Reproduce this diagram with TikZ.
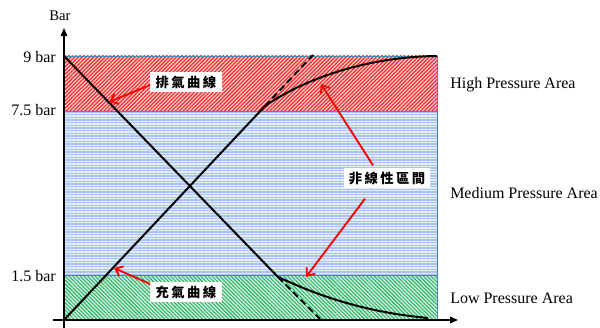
\documentclass[tikz,border=0pt]{standalone}
\usepackage{fontspec}
\setmainfont{Liberation Serif}
\newfontfamily\cjk[LetterSpace=18]{Noto Sans CJK TC}
\usetikzlibrary{patterns.meta,arrows.meta}
\definecolor{hired}{HTML}{FF2020}
\definecolor{hibase}{HTML}{FBC6C6}
\definecolor{midblue}{HTML}{A4C0EA}
\definecolor{midbase}{HTML}{E2ECF9}
\definecolor{logreen}{HTML}{20B060}
\definecolor{lobase}{HTML}{CDEEDA}
\definecolor{bordblue}{HTML}{4F81BD}
\tikzset{
  zone/.style={draw=bordblue, line width=0.6pt},
  curve/.style={line width=1.5pt, black},
  dcurve/.style={line width=1.5pt, black, dash pattern=on 5pt off 3pt},
  note/.style={fill=white, inner xsep=4pt, inner ysep=3pt, font=\cjk\bfseries\fontsize{10}{12}\selectfont},
  pointer/.style={draw=red, line width=1.4pt, -{Straight Barb[length=5pt,width=8pt,line width=1.4pt]}},
  axlabel/.style={font=\fontsize{12}{14}\selectfont, inner sep=0pt},
  axis/.style={line width=1.1pt, -{Triangle[length=6pt,width=5pt]}}
}
\begin{document}
\begin{tikzpicture}[x=0.75pt,y=-0.75pt]
\useasboundingbox (0,0) rectangle (600,328);
% zones
\fill[hibase] (64,56) rectangle (437,111);
\fill[midbase] (64,111) rectangle (437,275);
\fill[lobase] (64,275) rectangle (437,320);
\fill[pattern={Lines[angle=45,distance=2pt,line width=0.8pt]}, pattern color=hired] (64,56) rectangle (437,111);
\fill[pattern={Lines[angle=0,distance=2pt,line width=0.9pt]}, pattern color=midblue] (64,111) rectangle (437,275);
\fill[pattern={Lines[angle=-45,distance=2pt,line width=0.7pt]}, pattern color=logreen] (64,275) rectangle (437,320);
\draw[zone] (64,56) rectangle (437,111);
\draw[zone] (64,111) rectangle (437,275);
\draw[zone] (64,275) rectangle (437,320);
% axes
\coordinate (yb) at (64,328);
\coordinate (yt) at (64,28);
\coordinate (xl) at (53,320);
\coordinate (xr) at (458,320);
\draw[axis] (yb) -- (yt);
\draw[axis] (xl) -- (xr);
\node[axlabel, font=\fontsize{11}{13}\selectfont] (bar) at (60,16) {Bar};
\node[axlabel, anchor=east] (l9) at (56,57) {9 bar};
\node[axlabel, anchor=east] (l75) at (56,110) {7.5 bar};
\node[axlabel, anchor=east] (l15) at (56,276) {1.5 bar};
\node[axlabel, anchor=west] (hi) at (450,85) {High Pressure Area};
\node[axlabel, anchor=west] (me) at (450,193) {Medium Pressure Area};
\node[axlabel, anchor=west] (lo) at (450,298) {Low Pressure Area};
% curves
\coordinate (e0) at (64,56);
\coordinate (e1) at (278,277);
\coordinate (e2) at (428,318);
\coordinate (e3) at (320,319);
\coordinate (c0) at (64,320);
\coordinate (c1) at (265,106);
\coordinate (c2) at (437,56);
\coordinate (c3) at (313,55);
\draw[curve] (e0) -- (e1) .. controls (305,289) and (352,311) .. (e2);
\draw[dcurve] (e1) -- (e3);
\draw[curve] (c0) -- (c1) .. controls (300,82) and (360,57) .. (c2);
\draw[dcurve] (c1) -- (c3);
% notes
\node[note] (ex) at (186,82) {排氣曲線};
\node[note] (ch) at (186,292) {充氣曲線};
\node[note] (nl) at (387,178) {非線性區間};
\coordinate (ta) at (109,102);
\coordinate (tb) at (114,268);
\coordinate (tc) at (321,84);
\coordinate (td) at (306,277);
\draw[pointer] (ex.west) ++(0,3) -- (ta);
\draw[pointer] (ch.west) ++(0,-8) -- (tb);
\draw[pointer] (nl.north) ++(-14,-2) -- (tc);
\draw[pointer] (nl.south) ++(-22,10) -- (td);
\end{tikzpicture}
\end{document}
